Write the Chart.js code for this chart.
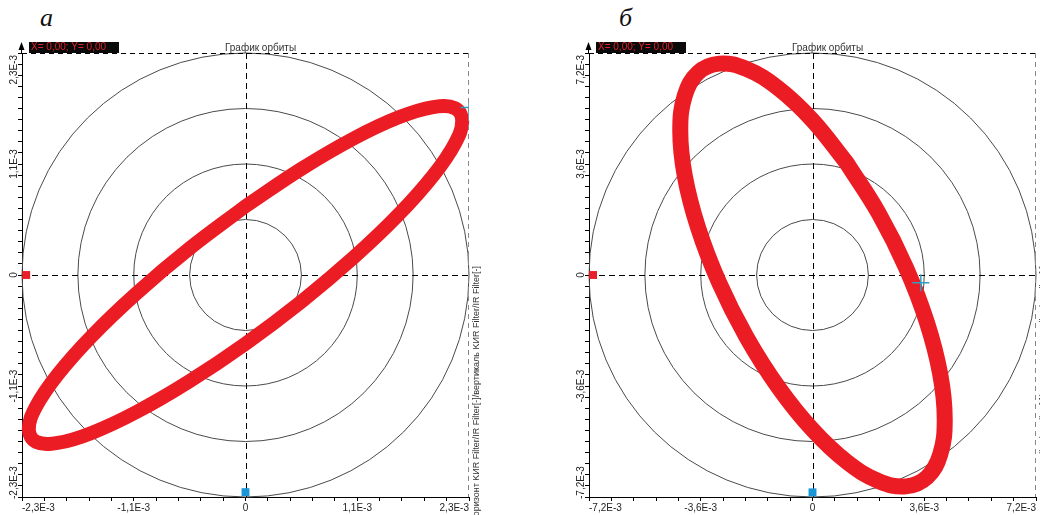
<!DOCTYPE html>
<html>
<head>
<meta charset="utf-8">
<script src="https://cdn.jsdelivr.net/npm/chart.js@4.4.1/dist/chart.umd.min.js"></script>
<style>
html, body { margin:0; padding:0; background:#fff; width:1040px; height:515px; overflow:hidden; }
.box { position:absolute; top:0; width:520px; height:515px; }
.tag { position:absolute; font-family:'Liberation Serif', serif; font-style:italic; font-size:26px; color:#111; }
</style>
</head>
<body>
<div class="tag" style="left:40px; top:3px">а</div>
<div class="tag" style="left:619px; top:3px">б</div>
<div class="box" style="left:0"><canvas id="orbitA"></canvas></div>
<div class="box" style="left:567px"><canvas id="orbitB"></canvas></div>
<script>
// values in units of 1E-3
// chart a
var orbitAX = [0, 0.577, 1.115, 1.577, 1.931, 2.154, 2.230, 2.154, 1.931, 1.577, 1.115, 0.577, 0, -0.577, -1.115, -1.577, -1.931, -2.154, -2.230, -2.154, -1.931, -1.577, -1.115, -0.577, 0];
var orbitAY = [0.712, 1.101, 1.416, 1.634, 1.740, 1.728, 1.599, 1.360, 1.029, 0.627, 0.183, -0.274, -0.712, -1.101, -1.416, -1.634, -1.740, -1.728, -1.599, -1.360, -1.029, -0.627, -0.183, 0.274, 0.712];
var majorA = [-2.3, -1.15, 0, 1.15, 2.3];
var labelsA = ['-2,3E-3', '-1,1E-3', '0', '1,1E-3', '2,3E-3'];
var ringsA = [0.575, 1.15, 1.725, 2.3];
var markersA = { red: [-2.257, 0], blue: [0, -2.25], cursor: [2.3, 1.735] };

// chart б
var orbitBX = [1.103, 2.130, 3.012, 3.689, 4.115, 4.260, 4.115, 3.689, 3.012, 2.130, 1.103, 0, -1.103, -2.130, -3.012, -3.689, -4.115, -4.260, -4.115, -3.689, -3.012, -2.130, -1.103, 0, 1.103];
var orbitBY = [3.635, 2.006, 0.239, -1.544, -3.221, -4.679, -5.817, -6.560, -6.856, -6.684, -6.057, -5.017, -3.635, -2.006, -0.239, 1.544, 3.221, 4.679, 5.817, 6.560, 6.856, 6.684, 6.057, 5.017, 3.635];
var majorB = [-7.2, -3.6, 0, 3.6, 7.2];
var labelsB = ['-7,2E-3', '-3,6E-3', '0', '3,6E-3', '7,2E-3'];
var ringsB = [1.8, 3.6, 5.4, 7.2];
var markersB = { red: [-7.07, 0], blue: [0, -7.05], cursor: [3.49, -0.25] };

var sideText = 'горизонт KИR Filter/IR Filter[-]/вертикаль KИR Filter/IR Filter[-]';
var FONT = "'Liberation Sans', Arial, sans-serif";

function minorTicks(max, n) {
  var t = [];
  for (var i = -n; i <= n; i++) t.push(max * i / n);
  return t;
}

function labelFor(v, major, labels) {
  for (var i = 0; i < major.length; i++) {
    if (Math.abs(v - major[i]) < 1e-6) return labels[i];
  }
  return '';
}

var orbitDecor = {
  id: 'orbitDecor',
  beforeDatasetsDraw: function(chart, args, o) {
    var ctx = chart.ctx, a = chart.chartArea, x = chart.scales.x, y = chart.scales.y;
    var cx = x.getPixelForValue(0), cy = y.getPixelForValue(0);
    ctx.save();
    ctx.strokeStyle = '#4a4a4a';
    ctx.lineWidth = 1;
    o.rings.forEach(function(r) {
      var rx = x.getPixelForValue(r) - cx, ry = cy - y.getPixelForValue(r);
      ctx.beginPath();
      ctx.ellipse(cx, cy, rx, ry, 0, 0, Math.PI * 2);
      ctx.stroke();
    });
    ctx.strokeStyle = '#000';
    ctx.setLineDash([6, 4]);
    var hy = Math.round(cy) + 0.5, vx = Math.round(cx) + 0.5;
    ctx.beginPath(); ctx.moveTo(a.left, hy); ctx.lineTo(a.right, hy); ctx.stroke();
    ctx.beginPath(); ctx.moveTo(vx, a.top); ctx.lineTo(vx, a.bottom); ctx.stroke();
    ctx.restore();
  },
  afterDraw: function(chart, args, o) {
    var ctx = chart.ctx, a = chart.chartArea, y = chart.scales.y;
    ctx.save();
    // frame: dashed top and right
    ctx.lineWidth = 1;
    ctx.setLineDash([5, 4]);
    ctx.strokeStyle = '#000';
    var top = Math.round(a.top) + 0.5, right = Math.round(a.right) - 0.5;
    ctx.beginPath(); ctx.moveTo(a.left, top); ctx.lineTo(a.right, top); ctx.stroke();
    ctx.strokeStyle = '#8a8a8a';
    ctx.beginPath(); ctx.moveTo(right, a.top); ctx.lineTo(right, a.bottom); ctx.stroke();
    ctx.setLineDash([]);
    // y axis arrow
    var ax = Math.round(a.left) - 0.5;
    ctx.strokeStyle = '#000';
    ctx.beginPath(); ctx.moveTo(ax, a.top); ctx.lineTo(ax, a.top - 8); ctx.stroke();
    ctx.fillStyle = '#000';
    ctx.beginPath(); ctx.moveTo(ax, a.top - 11); ctx.lineTo(ax - 3, a.top - 3); ctx.lineTo(ax + 3, a.top - 3); ctx.closePath(); ctx.fill();
    // cursor readout box
    ctx.fillStyle = '#0a0a0a';
    ctx.fillRect(a.left + 7, a.top - 11, 90, 11);
    ctx.font = '10px ' + FONT;
    ctx.fillStyle = '#e0202a';
    ctx.textAlign = 'left';
    ctx.textBaseline = 'middle';
    ctx.fillText('X= 0,00; Y= 0,00', a.left + 9, a.top - 5.5);
    // title
    ctx.fillStyle = '#333';
    ctx.textAlign = 'center';
    ctx.textBaseline = 'alphabetic';
    ctx.fillText('График орбиты', (a.left + a.right) / 2 + 15, a.top - 2);
    // y tick labels, rotated
    ctx.fillStyle = '#222';
    o.major.forEach(function(v, i) {
      var s = o.labels[i], w = ctx.measureText(s).width;
      var py = y.getPixelForValue(v);
      var c = Math.min(Math.max(py, a.top + 2 + w / 2), a.bottom + 2 - w / 2);
      ctx.save();
      ctx.translate(a.left - 8, c);
      ctx.rotate(-Math.PI / 2);
      ctx.textAlign = 'center';
      ctx.textBaseline = 'middle';
      ctx.fillText(s, 0, 0);
      ctx.restore();
    });
    // side caption
    ctx.fillStyle = '#333';
    ctx.font = '9px ' + FONT;
    ctx.translate(a.right + 8, 266);
    ctx.rotate(-Math.PI / 2);
    ctx.textAlign = 'right';
    ctx.textBaseline = 'middle';
    ctx.fillText(sideText, 0, 0);
    ctx.restore();
  }
};

function pts(xs, ys) {
  return xs.map(function(v, i) { return { x: v, y: ys[i] }; });
}

function orbitChart(id, ox, oy, major, labels, rings, markers, band) {
  var max = major[major.length - 1];
  var axis = function(isX, ticksList) {
    return {
      type: 'linear',
      min: -max,
      max: max,
      afterBuildTicks: function(s) { s.ticks = ticksList.map(function(v) { return { value: v }; }); },
      afterFit: function(s) { if (isX) s.height = 18; else s.width = 22; },
      grid: { drawOnChartArea: false, drawTicks: true, tickLength: 4, color: '#000' },
      border: { color: '#000', width: 1 },
      ticks: {
        autoSkip: false,
        maxRotation: 0,
        minRotation: 0,
        align: 'inner',
        padding: 1,
        color: '#222',
        font: { size: 10, family: FONT },
        callback: function(v) { return isX ? labelFor(v, major, labels) : ''; }
      }
    };
  };
  return new Chart(document.getElementById(id), {
    type: 'scatter',
    data: {
      datasets: [
        { data: [{ x: markers.cursor[0], y: markers.cursor[1] }], pointStyle: 'cross', pointRadius: 8.5, borderColor: '#2a9fc4', borderWidth: 1.5 },
        { data: [{ x: markers.red[0], y: markers.red[1] }], pointStyle: 'rect', pointRadius: 5.6, backgroundColor: '#e8202a', borderWidth: 0 },
        { data: [{ x: markers.blue[0], y: markers.blue[1] }], pointStyle: 'rect', pointRadius: 5.6, backgroundColor: '#1896d8', borderWidth: 0 },
        { data: pts(ox, oy), showLine: true, tension: 0.4, borderColor: '#ec1c24', borderWidth: band, borderJoinStyle: 'round', borderCapStyle: 'round', pointRadius: 0, clip: 2 }
      ]
    },
    options: {
      responsive: true,
      maintainAspectRatio: false,
      animation: false,
      layout: { padding: { top: 53, right: 51, left: 0, bottom: 0 } },
      plugins: {
        legend: { display: false },
        tooltip: { enabled: false },
        orbitDecor: { rings: rings, major: major, labels: labels }
      },
      scales: {
        x: axis(true, minorTicks(max, 10)),
        y: axis(false, minorTicks(max, 20))
      }
    },
    plugins: [orbitDecor]
  });
}

orbitChart('orbitA', orbitAX, orbitAY, majorA, labelsA, ringsA, markersA, 14);
orbitChart('orbitB', orbitBX, orbitBY, majorB, labelsB, ringsB, markersB, 16);
</script>
</body>
</html>
